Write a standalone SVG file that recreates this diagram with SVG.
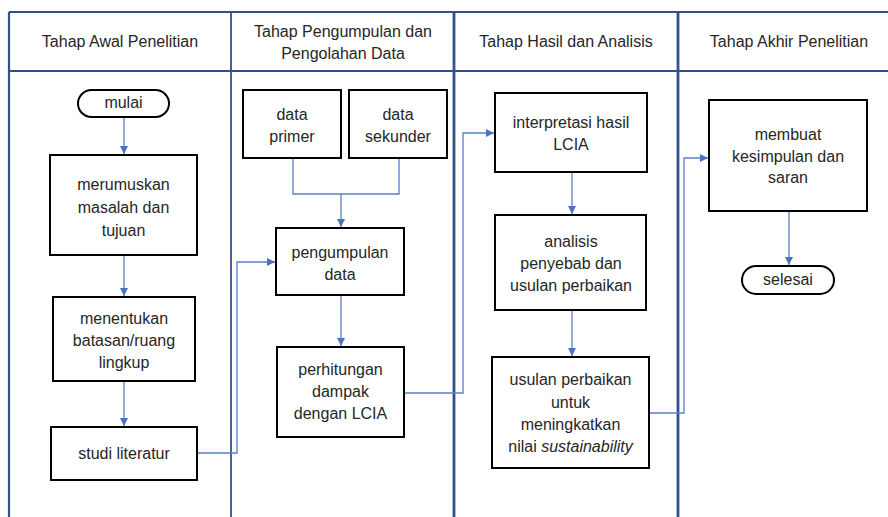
<svg xmlns="http://www.w3.org/2000/svg" width="888" height="517" viewBox="0 0 888 517">
<style>
text{font-family:"Liberation Sans",Arial,sans-serif;font-size:16px;fill:#262626;text-anchor:middle}
.box{fill:#fff;stroke:#000;stroke-width:2}
.lane{stroke:#34508c;stroke-width:2.2;fill:none}
.con{fill:none;stroke:#5b7fc4;stroke-width:1.3}
</style>
<defs>
<marker id="ah" markerUnits="userSpaceOnUse" markerWidth="9" markerHeight="9" refX="8" refY="4.5" orient="auto">
<path d="M0,0.5 L8,4.5 L0,8.5 Z" fill="#4a72c0"/>
</marker>
</defs>
<rect width="888" height="517" fill="#fff"/>
<g id="lanes">
<line class="lane" x1="9" y1="12" x2="888" y2="12"/>
<line class="lane" x1="9" y1="71" x2="888" y2="71"/>
<line class="lane" x1="9" y1="12" x2="9" y2="517"/>
<line class="lane" x1="231" y1="12" x2="231" y2="517" style="stroke-width:1.8"/>
<line class="lane" x1="454" y1="12" x2="454" y2="517" style="stroke-width:2.8"/>
<line class="lane" x1="678" y1="12" x2="678" y2="517" style="stroke-width:2.8"/>
<text x="120" y="47">Tahap Awal Penelitian</text>
<text x="343" y="37">Tahap Pengumpulan dan</text>
<text x="343" y="59">Pengolahan Data</text>
<text x="566" y="47">Tahap Hasil dan Analisis</text>
<text x="789" y="47">Tahap Akhir Penelitian</text>
</g>
<g id="connectors">
<path class="con" d="M124 117 V154" marker-end="url(#ah)"/>
<path class="con" d="M124 255 V296" marker-end="url(#ah)"/>
<path class="con" d="M124 381 V426" marker-end="url(#ah)"/>
<path class="con" d="M197 453 H237 V262 H275" marker-end="url(#ah)"/>
<path class="con" d="M293 158 V194 H399 V158"/>
<path class="con" d="M341 194 V227" marker-end="url(#ah)"/>
<path class="con" d="M341 295 V346" marker-end="url(#ah)"/>
<path class="con" d="M404 393 H463 V133 H494" marker-end="url(#ah)"/>
<path class="con" d="M572 172 V214" marker-end="url(#ah)"/>
<path class="con" d="M572 310 V356" marker-end="url(#ah)"/>
<path class="con" d="M649 413 H684 V158 H708" marker-end="url(#ah)"/>
<path class="con" d="M789 211 V265" marker-end="url(#ah)"/>
</g>
<g id="mulai">
<rect class="box" x="78" y="90" width="91" height="27" rx="13.5"/>
<text x="123.5" y="108">mulai</text>
</g>
<g id="merumuskan">
<rect class="box" x="50" y="155" width="147" height="100"/>
<text x="123.5" y="190">merumuskan</text>
<text x="123.5" y="213">masalah dan</text>
<text x="123.5" y="236">tujuan</text>
</g>
<g id="menentukan">
<rect class="box" x="53" y="297" width="142" height="84"/>
<text x="124" y="324">menentukan</text>
<text x="124" y="346">batasan/ruang</text>
<text x="124" y="368">lingkup</text>
</g>
<g id="studi">
<rect class="box" x="51" y="427" width="146" height="53"/>
<text x="124" y="459">studi literatur</text>
</g>
<g id="primer">
<rect class="box" x="243" y="90" width="98" height="68"/>
<text x="292" y="120">data</text>
<text x="292" y="142">primer</text>
</g>
<g id="sekunder">
<rect class="box" x="349" y="90" width="98" height="68"/>
<text x="398" y="120">data</text>
<text x="398" y="142">sekunder</text>
</g>
<g id="pengumpulan">
<rect class="box" x="276" y="228" width="128" height="67"/>
<text x="340" y="258">pengumpulan</text>
<text x="340" y="280">data</text>
</g>
<g id="perhitungan">
<rect class="box" x="277" y="347" width="127" height="90"/>
<text x="340.5" y="375">perhitungan</text>
<text x="340.5" y="397">dampak</text>
<text x="340.5" y="419">dengan LCIA</text>
</g>
<g id="interpretasi">
<rect class="box" x="495" y="93" width="152" height="79"/>
<text x="571" y="128">interpretasi hasil</text>
<text x="571" y="150">LCIA</text>
</g>
<g id="analisis">
<rect class="box" x="495" y="215" width="151" height="95"/>
<text x="571" y="247">analisis</text>
<text x="571" y="269">penyebab dan</text>
<text x="571" y="291">usulan perbaikan</text>
</g>
<g id="usulan">
<rect class="box" x="492" y="357" width="157" height="111"/>
<text x="570.5" y="385">usulan perbaikan</text>
<text x="570.5" y="408">untuk</text>
<text x="570.5" y="430">meningkatkan</text>
<text x="570.5" y="452">nilai <tspan font-style="italic">sustainability</tspan></text>
</g>
<g id="membuat">
<rect class="box" x="709" y="100" width="158" height="111"/>
<text x="788" y="140">membuat</text>
<text x="788" y="162">kesimpulan dan</text>
<text x="788" y="183">saran</text>
</g>
<g id="selesai">
<rect class="box" x="742" y="266" width="92" height="28" rx="14"/>
<text x="788" y="285">selesai</text>
</g>
</svg>
